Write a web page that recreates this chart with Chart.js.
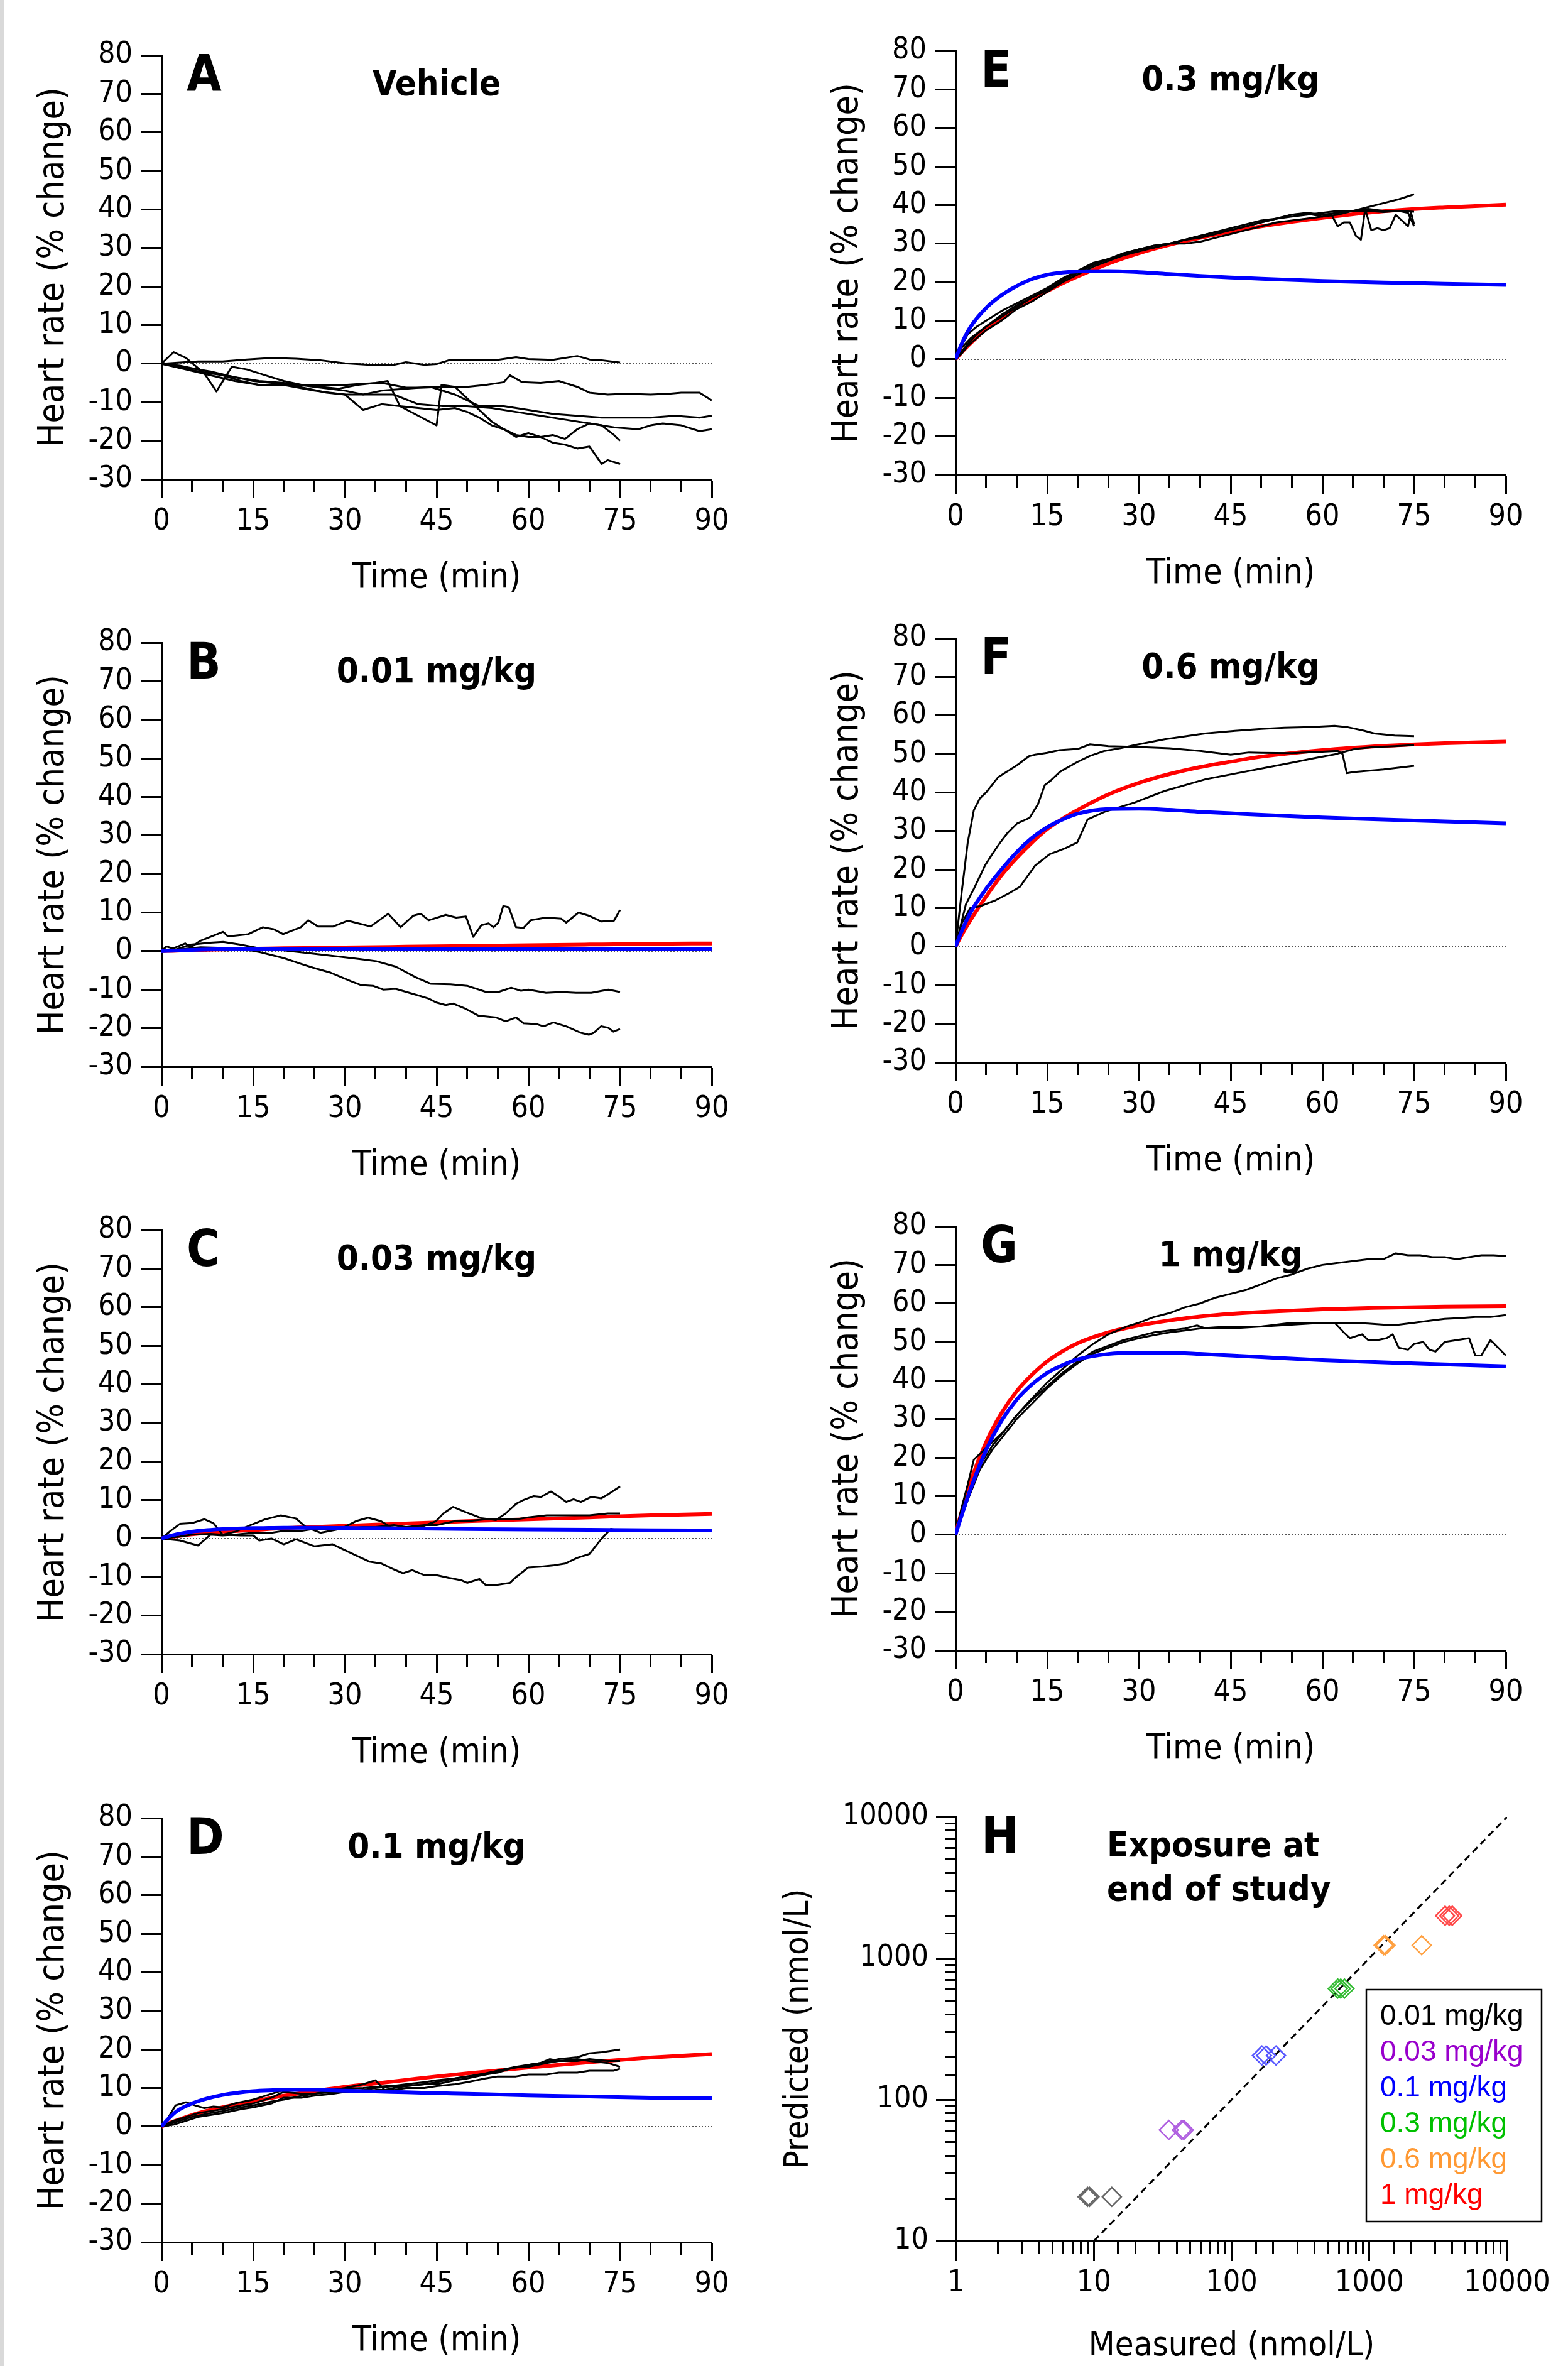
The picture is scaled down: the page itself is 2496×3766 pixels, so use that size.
<!DOCTYPE html>
<html>
<head>
<meta charset="utf-8">
<title>Heart rate and exposure</title>
<script src="https://cdn.jsdelivr.net/npm/chart.js@4.4.1/dist/chart.umd.min.js"></script>
<style>
  html, body { margin: 0; padding: 0; background: #fff; }
  body { position: relative; width: 2496px; height: 3766px; overflow: hidden; }
  #edge { position: absolute; left: 0; top: 0; width: 6px; height: 3766px; background: #d9d9d9; }
</style>
</head>
<body>
<div id="edge"></div>
<script>
// ---- data ---------------------------------------------------------------

// time grid of the model curves (min)
const modelT = [0, 1, 2.5, 5, 7.5, 10, 12.5, 15, 17.5, 20, 25, 30, 35, 40, 45, 50, 60, 70, 80, 90];

// A: vehicle
const tA1 = [0, 3, 6, 10, 14, 18, 22, 26, 30, 34, 38, 40, 43, 45, 47, 50, 55, 58, 60, 64, 68, 70, 72, 75];
const vA1 = [0, 0.3, 0.6, 0.6, 1.1, 1.5, 1.3, 0.9, 0.1, -0.3, -0.3, 0.4, -0.3, -0.1, 0.9, 1, 1, 1.7, 1.2, 1, 2, 1.1, 0.9, 0.3];
const tA2 = [0, 3, 6, 10, 13, 16, 20, 25, 30, 33, 36, 40, 43, 46, 50, 53, 56, 57, 59, 62, 65, 68, 70, 73, 76, 80, 83, 85, 88, 90];
const vA2 = [0, -1, -2, -3, -4.5, -5.5, -5.5, -5.5, -5.5, -5.2, -5, -6.2, -6.2, -6, -6, -5.5, -4.8, -3, -4.8, -5, -4.5, -6, -7.5, -8, -7.8, -8, -7.8, -7.5, -7.5, -9.5];
const tA3 = [0, 2, 4, 7, 9, 11.5, 14, 17, 20, 23, 26, 29, 32, 35, 37, 39, 42, 45, 45.8, 48, 50, 52, 54, 56, 58, 60, 62, 64, 66, 68, 70, 72, 74, 75];
const vA3 = [0, 3, 1.5, -2.5, -7.2, -0.8, -1.5, -3, -4.5, -5.5, -6, -6.5, -5.5, -5, -4.5, -11, -13.5, -16, -5.5, -6, -9, -12, -15, -17, -19, -18, -19, -18.5, -19.5, -17, -15.5, -16, -18.5, -20];
const tA4 = [0, 3, 6, 9, 12, 15, 18, 21, 24, 27, 30, 33, 36, 39, 42, 45, 48, 50, 52, 54, 56, 58, 60, 62, 64, 66, 68, 70, 72, 73, 75];
const vA4 = [0, -0.5, -1.5, -2.5, -3.5, -4.5, -5, -5.5, -6.5, -7.5, -8, -12, -10.5, -11, -11.5, -12, -11.5, -12.5, -14, -16, -17, -18.5, -19, -19, -20.5, -21, -22, -21.5, -26, -25, -26];
const tA5 = [0, 4, 8, 12, 16, 20, 25, 30, 33, 36, 40, 44, 48, 52, 56, 60, 64, 68, 72, 76, 80, 84, 88, 90];
const vA5 = [0, -1, -2, -3.5, -4.5, -5, -6, -7, -8, -7, -6.5, -6, -8, -11, -11, -12, -13, -13.5, -14, -14, -14, -13.5, -14, -13.5];
const tA6 = [0, 4, 8, 12, 16, 20, 25, 30, 34, 38, 42, 46, 50, 54, 58, 62, 66, 70, 74, 78, 80, 82, 85, 88, 90];
const vA6 = [0, -1.5, -3, -4.5, -5.5, -5.5, -7, -8, -8, -8, -10.5, -11, -11, -11.5, -12.5, -13.5, -14.5, -15.5, -16.5, -17, -16, -15.5, -16, -17.5, -17];

// B: 0.01 mg/kg
const tB1 = [0, 0.8, 1.9, 3.9, 4.8, 6.4, 10.1, 10.9, 14.2, 16.6, 18.3, 19.9, 22.8, 24, 25.6, 28.1, 30.5, 32.2, 34.2, 37.1, 39.1, 41.2, 42.4, 43.7, 46.5, 48.2, 49.8, 51, 52.3, 53.5, 54.3, 55.1, 55.9, 56.8, 58, 59.2, 60.4, 62.9, 65.4, 66.2, 68.2, 69.9, 71.9, 74, 75];
const vB1 = [0, 1.2, 0.7, 2, 1, 2.7, 5, 3.8, 4.4, 6.2, 5.7, 4.4, 6.2, 8, 6.4, 6.4, 7.9, 7.2, 6.4, 9.7, 6.2, 9.2, 9.7, 8, 9.4, 8.7, 9, 3.7, 6.7, 7.2, 6.2, 7.4, 11.7, 11.4, 6.2, 6, 8, 8.7, 8.4, 7.4, 10, 9.2, 7.7, 7.9, 10.7];
const tB2 = [0, 2.3, 4.8, 8, 10.1, 12.9, 16.2, 20, 24.4, 30, 32.6, 35.1, 38.3, 41.6, 44.1, 47.3, 50, 53.1, 55.1, 57.2, 58.8, 60, 62.9, 65.4, 67.8, 70.3, 73.1, 75];
const vB2 = [0, 0.4, 1.7, 2.2, 2.4, 1.7, 0.7, 0.2, -0.6, -1.6, -2.1, -2.6, -4, -6.8, -8.5, -8.6, -9, -10.6, -10.6, -9.5, -10.3, -10, -10.8, -10.6, -10.8, -10.8, -10, -10.6];
const tB3 = [0, 6.4, 12.9, 16.2, 20, 22.8, 24.8, 27.7, 31, 32.6, 34.6, 36.3, 38.3, 41.6, 43.7, 44.9, 46.5, 47.7, 49.8, 51.8, 54.7, 56.3, 58, 59.2, 61.3, 62.5, 64.1, 66.2, 68.6, 69.9, 70.7, 71.9, 73.1, 73.9, 75];
const vB3 = [0, 1, 0.7, -0.3, -1.8, -3.3, -4.3, -5.6, -7.8, -8.8, -9, -10, -9.8, -11.3, -12.3, -13.3, -14, -13.6, -15, -16.7, -17.2, -18.2, -17.2, -18.7, -18.9, -19.5, -18.5, -19.5, -21.2, -21.7, -21.2, -19.5, -19.9, -20.9, -20.2];
const redB = [0, 0.05, 0.12, 0.25, 0.35, 0.45, 0.52, 0.6, 0.68, 0.75, 0.85, 0.95, 1.05, 1.15, 1.25, 1.35, 1.55, 1.72, 1.88, 2.0];
const blueB = [0, 0.05, 0.15, 0.3, 0.42, 0.5, 0.55, 0.6, 0.62, 0.63, 0.64, 0.64, 0.64, 0.63, 0.63, 0.62, 0.62, 0.61, 0.6, 0.6];

// C: 0.03 mg/kg
const tC1 = [0, 1.5, 3, 5, 7, 8.5, 10, 12.1, 14.6, 17, 19.5, 22, 23.6, 26, 29.3, 31.8, 33.8, 35.9, 37.5, 40, 42.4, 44.9, 46.1, 47.7, 49.8, 52.3, 54.7, 56.3, 58, 59.2, 60.9, 62.1, 63.7, 64.9, 66.2, 67.4, 68.6, 70.3, 71.9, 73.1, 75];
const vC1 = [0, 2, 3.8, 4, 5, 4, 1, 1.8, 3.5, 5, 6, 5.2, 3, 1.5, 2.5, 4.5, 5.4, 4.5, 3, 2.5, 3, 4.5, 6.5, 8.2, 6.8, 5.3, 4.8, 6.5, 9, 10, 11, 10.8, 12.2, 11, 9.5, 10.2, 9.5, 10.8, 10.4, 11.5, 13.5];
const tC2 = [0, 3, 6, 8, 10, 12, 15, 18, 20, 23, 25, 28, 30, 33, 35, 38, 40, 43, 45, 48, 50, 53, 55, 58, 60, 63, 65, 68, 70, 73, 75];
const vC2 = [0, -0.5, -1.8, 1, 0.8, 1, 1.5, 1.5, 2, 2, 2.5, 2.5, 2.5, 3, 3, 3.5, 3, 3.5, 3.5, 4.5, 4.5, 5, 5, 5, 5.5, 6, 6, 6, 6, 6.5, 6.5];
const tC3 = [0, 3, 5, 8, 10, 13, 15, 16, 18, 20, 22, 25, 28, 30, 32, 34, 36, 38, 39.5, 41, 43, 45, 47, 49, 50, 52, 53, 55, 57, 58, 60, 62, 64, 66, 68, 70, 71, 72, 73.5, 75];
const vC3 = [0, 0.5, 1, 1.2, 1, 0.8, 0.8, -0.5, 0, -1.5, -0.2, -2, -1.5, -3, -4.5, -6, -6.5, -8, -9, -8.2, -9.5, -9.5, -10.2, -10.8, -11.5, -10.5, -12, -12, -11.5, -10, -7.5, -7.3, -7, -6.5, -5, -4, -2, 0, 2.5, 2];
const redC = [0, 0.3, 0.6, 1.1, 1.5, 1.8, 2.0, 2.2, 2.45, 2.7, 3.0, 3.3, 3.6, 3.9, 4.2, 4.5, 5.0, 5.5, 6.0, 6.4];
const blueC = [0, 0.5, 1.1, 1.8, 2.2, 2.45, 2.6, 2.7, 2.75, 2.8, 2.8, 2.75, 2.7, 2.6, 2.55, 2.45, 2.35, 2.25, 2.15, 2.1];

// D: 0.1 mg/kg
const tD1 = [0, 1, 2.3, 4, 5.5, 7, 8.5, 10, 12, 15, 17, 20, 22, 25, 28, 30, 33, 35, 38, 40, 43, 45, 48, 50, 53, 55, 58, 60, 62, 65, 68, 70, 72, 75];
const vD1 = [0, 2, 5.5, 6.3, 5.5, 4.8, 5.2, 5, 6, 7, 8, 9.5, 9.5, 9.3, 9.6, 9.8, 10, 10.3, 10.6, 11, 11.5, 12, 12.5, 13, 13.8, 14.5, 15.3, 16, 16.5, 17.5, 18, 19, 19.3, 20];
const tD2 = [0, 2, 4, 6, 8, 10, 13, 15, 18, 20, 23, 25, 28, 30, 33, 35, 38, 40, 43, 45, 48, 50, 53, 55, 58, 60, 63, 65, 68, 70, 72, 74, 75];
const vD2 = [0, 0.5, 1.5, 2.5, 3, 3.5, 4.5, 5, 6, 7.5, 7.5, 8, 8.5, 9, 9, 9.5, 9.5, 10, 10, 10.5, 11, 11.5, 12.5, 13, 13, 13.5, 13.5, 14, 14, 14.5, 14.5, 14.5, 15];
const tD3 = [0, 2, 4, 6, 8, 10, 13, 15, 18, 20, 23, 25, 28, 30, 33, 35, 36.5, 38, 40, 43, 45, 48, 50, 53, 55, 58, 60, 63, 65, 68, 70, 73, 75];
const vD3 = [0, 1.5, 2.5, 3.5, 4, 4.5, 5.5, 6, 7.5, 9, 8.5, 8.5, 9.5, 10, 11, 12, 9.5, 10, 10.5, 11, 11, 12, 12.5, 13.5, 14.5, 15.5, 15.5, 16.5, 17, 17.5, 17, 16.5, 15.5];
const tD4 = [0, 2, 5, 8, 10, 13, 15, 18, 20, 23, 25, 28, 30, 33, 35, 38, 40, 43, 45, 48, 50, 53, 55, 58, 60, 62, 63.5, 65, 68, 70, 73, 75];
const vD4 = [0, 1, 2.5, 3.5, 4, 5, 5.5, 6.5, 7, 8, 8.5, 9, 9, 9.5, 10, 10.5, 10.5, 11, 11.5, 12.5, 13, 13.5, 14, 15.5, 16, 16.5, 17.5, 17, 17, 17.5, 17, 17];
const redD = [0, 0.7, 1.6, 3, 4.1, 5, 5.8, 6.5, 7.3, 8, 9.2, 10.3, 11.2, 12.1, 13, 13.8, 15.3, 16.7, 17.9, 18.8];
const blueD = [0, 1.8, 4, 6, 7.3, 8.2, 8.8, 9.2, 9.4, 9.5, 9.5, 9.3, 9.1, 8.9, 8.7, 8.5, 8.1, 7.8, 7.5, 7.3];

// E: 0.3 mg/kg
const tE = [0, 1, 2, 3.5, 5, 7.5, 10, 12.5, 15, 17.5, 20, 22.5, 25, 27.5, 30, 32.5, 35, 37.5, 40, 42.5, 45, 47.5, 50, 52.5, 55, 57.5, 60, 62.5, 65, 67.5, 70, 72.5, 75];
const vE1 = [0, 3.5, 6.5, 8.5, 10, 12.5, 14.5, 16.5, 18.5, 21, 23, 24.5, 26, 27, 28, 29, 30, 31, 31.5, 32.5, 33.5, 34.5, 35.5, 36.5, 37.5, 38, 37.5, 38, 38.5, 39.5, 40.5, 41.5, 42.8];
const vE2 = [0, 1.5, 3.5, 5.5, 7.5, 10, 13, 15, 17.5, 20, 22, 24, 25.5, 27, 28.5, 29.5, 30, 31, 32, 33, 34, 35, 36, 36.5, 37, 37.5, 38, 38.5, 38.5, 38.5, 38.2, 38.5, 38.3];
const tE3 = [0, 1, 2, 3.5, 5, 7.5, 10, 12.5, 15, 17.5, 20, 22.5, 25, 27.5, 30, 32.5, 35, 37.5, 40, 42.5, 45, 47.5, 50, 52.5, 55, 57.5, 60, 61.5, 62.5, 63.5, 64.5, 65.5, 66.3, 67, 68, 69, 70, 71, 72, 73, 74, 74.5, 75];
const vE3 = [0, 2, 4, 6.5, 8.5, 11, 13.5, 16, 18, 20.5, 23, 25, 26, 27.5, 28.5, 29, 30, 30, 30.5, 31.5, 32.5, 33.5, 34.5, 35.5, 36, 36.5, 37, 37.5, 34.5, 35.5, 35.5, 32, 31, 39, 33.5, 34, 33.5, 34, 37.5, 36, 34.5, 38, 35];
const tE4 = [0, 1, 2.5, 5, 7.5, 10, 12.5, 15, 17.5, 20, 22.5, 25, 27.5, 30, 32.5, 35, 37.5, 40, 42.5, 45, 47.5, 50, 52.5, 55, 57.5, 60, 62.5, 65, 67.5, 70, 72.5, 74, 75];
const vE4 = [0, 3, 5.5, 8.5, 11.5, 14, 16, 18, 20.5, 22.5, 24.5, 26, 27.5, 28.5, 29.5, 30, 31, 32, 33, 33.5, 34.5, 35.5, 36.5, 37.5, 37.8, 37, 37.5, 38.5, 39, 38.5, 38.5, 38, 34.5];
const redE = [0, 1.8, 4.2, 7.8, 10.8, 13.3, 15.6, 17.7, 19.7, 21.5, 24.8, 27.5, 29.7, 31.5, 33.1, 34.5, 36.7, 38.4, 39.4, 40.1];
const blueE = [0, 4, 8.5, 13.3, 16.6, 19, 20.8, 21.9, 22.5, 22.8, 22.9, 22.6, 22.1, 21.6, 21.2, 20.9, 20.3, 19.9, 19.6, 19.3];

// F: 0.6 mg/kg
const tF1 = [0, 1, 2, 3, 4, 5, 6, 7, 8, 10, 12, 13, 15, 17, 20, 22, 25, 30, 35, 40, 45, 48, 50, 55, 60, 62.5, 63.3, 64, 65, 70, 75];
const vF1 = [0, 14, 27, 35.4, 38.5, 40, 42, 44, 45, 47, 49.4, 49.8, 50.3, 51, 51.3, 52.5, 52, 51.8, 51.5, 50.8, 49.8, 50.4, 50.3, 50.2, 50.6, 50.8, 50, 45, 45.3, 46, 46.9];
const tF2 = [0, 1.7, 3, 4.8, 6, 7.3, 8.5, 10.1, 12.1, 13.5, 14.6, 15.5, 17.1, 19.9, 22, 24.4, 27, 29.3, 34.2, 40.8, 45.7, 50, 53.8, 58, 62, 64, 66.9, 68.5, 71.8, 75];
const vF2 = [0, 11, 15, 21, 24, 27, 29.5, 32, 33.4, 37, 41.9, 43, 45.4, 47.9, 49.5, 50.8, 51.5, 52.3, 53.8, 55.3, 56, 56.5, 56.8, 57, 57.3, 57, 56, 55.3, 54.8, 54.6];
const tF3 = [0, 1, 2.4, 4, 6.5, 8.9, 10.5, 13, 15.4, 17.9, 19.9, 21.6, 24.4, 29.3, 34.2, 40.8, 45.7, 50.6, 55.5, 58.7, 62, 65.3, 68.5, 71.8, 75];
const vF3 = [0, 6, 10, 10.5, 12, 14, 15.5, 21, 24, 25.5, 27, 33, 35, 37.4, 40.4, 43.4, 44.9, 46.4, 47.9, 48.9, 49.9, 51.3, 51.8, 52, 52.3];
const redF = [0, 3, 7, 13, 18.5, 23, 27, 30.5, 33.2, 35.5, 39.5, 42.5, 44.8, 46.6, 48, 49.3, 51, 52.1, 52.8, 53.2];
const blueF = [0, 4, 9, 15, 20, 24.5, 28.2, 31, 33, 34.5, 35.7, 35.8, 35.5, 35, 34.6, 34.2, 33.5, 33, 32.5, 32];

// G: 1 mg/kg
const tG1 = [0, 1, 2, 3, 4, 5, 6, 8, 10, 12, 15, 17.5, 20, 22.5, 25, 28, 30, 32.5, 35, 37.5, 40, 42.5, 45, 47.5, 50, 52.5, 55, 57.5, 60, 62.5, 65, 67.5, 70, 72, 74, 76, 78, 80, 82, 84, 86, 88, 90];
const vG1 = [0, 7, 13, 19.5, 21, 22.5, 24, 27, 31, 34.5, 39.5, 43, 46.5, 49.5, 52, 54, 55, 56.5, 57.5, 59, 60, 61.5, 62.5, 63.5, 65, 66.5, 67.5, 69, 70, 70.5, 71, 71.5, 71.5, 73, 72.5, 72.5, 72, 72, 71.5, 72, 72.5, 72.5, 72.3];
const tG2 = [0, 2, 4, 6, 8, 10, 12.5, 15, 17.5, 20, 22.5, 25, 27.5, 30, 32.5, 35, 37.5, 40, 42.5, 45, 47.5, 50, 52.5, 55, 57.5, 60, 62.5, 65, 67.5, 70, 72.5, 75, 77.5, 80, 82.5, 85, 87.5, 90];
const vG2 = [0, 9, 17, 22, 26, 30, 34, 38, 41.5, 44.5, 47, 48.5, 50, 51, 51.8, 52.5, 53, 53.5, 53.8, 54, 54, 54, 54.5, 55, 55, 55, 55, 55, 54.8, 54.5, 54.5, 55, 55.5, 56, 56.2, 56.5, 56.5, 57];
const tG3 = [0, 2, 4, 6, 8, 10, 12.5, 15, 17.5, 20, 22.5, 25, 27.5, 30, 32.5, 35, 37.5, 39.5, 41, 45, 50, 55, 60, 62, 63.5, 64.5, 65.5, 66.5, 67.5, 69, 70.5, 71.5, 72.5, 74, 75, 76.5, 77.5, 78.5, 80, 82, 84, 85, 86, 87.5, 90];
const vG3 = [0, 10, 18, 23, 27, 31, 35, 38.5, 42, 45, 47.5, 49, 50.5, 51.5, 52.5, 53, 53.5, 54.3, 53.5, 53.5, 54, 54.5, 55, 55, 52.5, 51, 51.5, 52, 50.5, 50.5, 51, 52, 48.5, 48, 49.5, 50, 48, 47.5, 50, 50.5, 51, 46.5, 46.5, 50.5, 46.5];
const redG = [0, 6, 14, 24, 31.5, 37.2, 41.5, 45, 47.6, 49.7, 52.5, 54.3, 55.6, 56.6, 57.3, 57.8, 58.5, 58.9, 59.2, 59.3];
const blueG = [0, 5, 12, 22, 29.5, 35, 39, 42, 44, 45.5, 46.9, 47.2, 47.2, 46.9, 46.5, 46.1, 45.3, 44.7, 44.2, 43.7];

// H: exposure at end of study (nmol/L)
const doseLabels = ['0.01 mg/kg', '0.03 mg/kg', '0.1 mg/kg', '0.3 mg/kg', '0.6 mg/kg', '1 mg/kg'];
const doseTextColors = ['#000000', '#9900cc', '#0000ff', '#00c000', '#ff9933', '#ff0000'];
const doseMarkColors = ['#666666', '#b060e0', '#5555ff', '#33bb33', '#ffa040', '#ff4848'];
const measured = [[9.0, 9.3, 13.5], [35, 43.5, 45], [166, 178, 210], [590, 620, 660], [1270, 1310, 2400], [3550, 3800, 4000]];
const predicted = [[20.5, 20.5, 20.5], [61, 61, 61], [205, 205, 205], [610, 610, 610], [1236, 1236, 1236], [2000, 2000, 2000]];
const unityX = [10, 10000];
const unityY = [10, 10000];

// ---- drawing ------------------------------------------------------------

const FONT = '"DejaVu Sans Condensed", "DejaVu Sans", sans-serif';
const TICK_SIZE = 48;
const LETTER_FONT = 'bold 80px "Liberation Sans Narrow", "DejaVu Sans Condensed", sans-serif';
const TITLE_FONT = 'bold 56px "DejaVu Sans Condensed", "DejaVu Sans", sans-serif';

function pts(ts, vs) {
  return ts.map((t, i) => ({x: t, y: vs[i]}));
}

function isPow10(v) {
  const l = Math.log10(v);
  return Math.abs(l - Math.round(l)) < 1e-6;
}

function makeCanvas(id, left, top, w, h) {
  const c = document.createElement('canvas');
  c.id = id;
  c.width = w;
  c.height = h;
  c.style.cssText = 'position:absolute;left:' + left + 'px;top:' + top + 'px;width:' + w + 'px;height:' + h + 'px';
  document.body.appendChild(c);
  return c;
}

// panel letter + bold heading inside the plot area
const panelText = {
  id: 'panelText',
  afterDatasetsDraw(chart, args, o) {
    const {ctx, chartArea: a} = chart;
    ctx.save();
    ctx.fillStyle = '#000';
    ctx.textBaseline = 'alphabetic';
    ctx.textAlign = 'left';
    ctx.font = LETTER_FONT;
    ctx.fillText(o.letter, a.left + 40, a.top + 57);
    ctx.font = TITLE_FONT;
    if (o.titleLeft) {
      o.title.forEach((s, i) => ctx.fillText(s, a.left + o.titleLeft, a.top + 63 + i * 70));
    } else {
      ctx.textAlign = 'center';
      ctx.fillText(o.title[0], (a.left + a.right) / 2, a.top + 63);
    }
    ctx.restore();
  }
};

// boxed dose legend of panel H
const doseLegend = {
  id: 'doseLegend',
  afterDraw(chart) {
    const {ctx, chartArea: a} = chart;
    const x0 = a.right - 224, y0 = a.top + 275;
    ctx.save();
    ctx.fillStyle = '#fff';
    ctx.fillRect(x0, y0, 279, 369);
    ctx.strokeStyle = '#000';
    ctx.lineWidth = 2.5;
    ctx.strokeRect(x0, y0, 279, 369);
    ctx.font = '46px "Liberation Sans", Arial, sans-serif';
    ctx.textAlign = 'left';
    ctx.textBaseline = 'alphabetic';
    doseLabels.forEach((s, i) => {
      ctx.fillStyle = doseTextColors[i];
      ctx.fillText(s, x0 + 22, a.top + 331 + i * 57);
    });
    ctx.restore();
  }
};

function timePanel(p) {
  const right = p.col === 1;
  const cLeft = right ? 1248 : 0;
  const L = right ? 1521 : 257;
  const R = right ? 2397 : 1133;
  const canvas = makeCanvas('panel' + p.letter, cLeft, p.top - 90, 1248, 965);

  const datasets = [{
    data: pts([0, 90], [0, 0]), borderColor: '#555', borderWidth: 2, borderDash: [2, 3],
    pointRadius: 0, order: 4
  }];
  p.traces.forEach(tr => datasets.push({
    data: pts(tr[0], tr[1]), borderColor: '#000', borderWidth: 3, pointRadius: 0,
    borderJoinStyle: 'round', order: 2
  }));
  if (p.red) datasets.push({
    data: pts(modelT, p.red), borderColor: '#ff0000', borderWidth: 6, pointRadius: 0,
    cubicInterpolationMode: 'monotone', order: 3
  });
  if (p.blue) datasets.push({
    data: pts(modelT, p.blue), borderColor: '#0000ff', borderWidth: 6, pointRadius: 0,
    cubicInterpolationMode: 'monotone', order: 1
  });

  new Chart(canvas, {
    type: 'line',
    data: {datasets: datasets},
    options: {
      responsive: false,
      animation: false,
      devicePixelRatio: 1,
      events: [],
      layout: {padding: {top: 90, right: cLeft + 1248 - R, left: 0, bottom: 0}},
      plugins: {
        legend: {display: false},
        tooltip: {enabled: false},
        panelText: {letter: p.letter, title: [p.title]}
      },
      scales: {
        x: {
          type: 'linear', min: 0, max: 90,
          ticks: {
            stepSize: 5, autoSkip: false, maxRotation: 0, padding: 9, color: '#000',
            font: {family: FONT, size: TICK_SIZE},
            callback: v => (v % 15 === 0 ? String(v) : '')
          },
          grid: {
            drawOnChartArea: false, drawTicks: true, tickLength: 30, tickWidth: 3, tickColor: '#000',
            tickBorderDash: c => (c.tick && c.tick.value % 15 !== 0 ? [18, 200] : [])
          },
          border: {display: true, color: '#000', width: 3},
          title: {
            display: true, text: 'Time (min)', color: '#000',
            font: {family: FONT, size: 55}, padding: {top: 0, bottom: 9}
          },
          afterFit: s => { s.height = 200; }
        },
        y: {
          type: 'linear', min: -30, max: 80,
          ticks: {stepSize: 10, padding: 14, color: '#000', font: {family: FONT, size: TICK_SIZE}},
          grid: {drawOnChartArea: false, drawTicks: true, tickLength: 32, tickWidth: 3, tickColor: '#000'},
          border: {display: true, color: '#000', width: 3},
          title: {
            display: true, text: 'Heart rate (% change)', color: '#000',
            font: {family: FONT, size: 57}, padding: {top: L - cLeft - 171 - 34, bottom: 0}
          },
          afterFit: s => { s.width = L - cLeft; }
        }
      }
    },
    plugins: [panelText]
  });
}

const panels = [
  {letter: 'A', col: 0, top: 88, title: 'Vehicle',
   traces: [[tA1, vA1], [tA2, vA2], [tA3, vA3], [tA4, vA4], [tA5, vA5], [tA6, vA6]]},
  {letter: 'B', col: 0, top: 1023, title: '0.01 mg/kg',
   traces: [[tB1, vB1], [tB2, vB2], [tB3, vB3]], red: redB, blue: blueB},
  {letter: 'C', col: 0, top: 1958, title: '0.03 mg/kg',
   traces: [[tC1, vC1], [tC2, vC2], [tC3, vC3]], red: redC, blue: blueC},
  {letter: 'D', col: 0, top: 2894, title: '0.1 mg/kg',
   traces: [[tD1, vD1], [tD2, vD2], [tD3, vD3], [tD4, vD4]], red: redD, blue: blueD},
  {letter: 'E', col: 1, top: 81, title: '0.3 mg/kg',
   traces: [[tE, vE1], [tE, vE2], [tE3, vE3], [tE4, vE4]], red: redE, blue: blueE},
  {letter: 'F', col: 1, top: 1016, title: '0.6 mg/kg',
   traces: [[tF1, vF1], [tF2, vF2], [tF3, vF3]], red: redF, blue: blueF},
  {letter: 'G', col: 1, top: 1952, title: '1 mg/kg',
   traces: [[tG1, vG1], [tG2, vG2], [tG3, vG3]], red: redG, blue: blueG}
];
panels.forEach(timePanel);

// panel H: predicted vs measured exposure, log-log
(function () {
  const cLeft = 1200, top = 2892, L = 1522, R = 2399;
  const canvas = makeCanvas('panelH', cLeft, top - 90, 2496 - cLeft, 965);
  const datasets = [{
    data: pts(unityX, unityY), showLine: true, borderColor: '#000', borderWidth: 3,
    borderDash: [11, 7], pointRadius: 0, order: 2
  }];
  measured.forEach((m, i) => datasets.push({
    data: pts(m, predicted[i]), showLine: false, pointStyle: 'rectRot', pointRadius: 15,
    pointBorderWidth: 2.5, borderColor: doseMarkColors[i], backgroundColor: 'rgba(0,0,0,0)', order: 1
  }));

  const logTicks = pad => ({
    autoSkip: false, maxRotation: 0, padding: pad, color: '#000',
    font: {family: FONT, size: TICK_SIZE},
    callback: v => (isPow10(v) ? String(v) : '')
  });

  new Chart(canvas, {
    type: 'scatter',
    data: {datasets: datasets},
    options: {
      responsive: false,
      animation: false,
      devicePixelRatio: 1,
      events: [],
      layout: {padding: {top: 90, right: 2496 - R, left: 0, bottom: 0}},
      plugins: {
        legend: {display: false},
        tooltip: {enabled: false},
        panelText: {letter: 'H', title: ['Exposure at', 'end of study'], titleLeft: 240}
      },
      scales: {
        x: {
          type: 'logarithmic', min: 1, max: 10000,
          ticks: logTicks(7),
          grid: {
            drawOnChartArea: false, drawTicks: true, tickLength: 32, tickWidth: 3, tickColor: '#000',
            tickBorderDash: c => (c.tick && !isPow10(c.tick.value) ? [18, 200] : [])
          },
          border: {display: true, color: '#000', width: 3},
          title: {
            display: true, text: 'Measured (nmol/L)', color: '#000',
            font: {family: FONT, size: 54}, padding: {top: 0, bottom: 0}
          },
          afterFit: s => { s.height = 200; }
        },
        y: {
          type: 'logarithmic', min: 10, max: 10000,
          ticks: logTicks(12),
          grid: {
            drawOnChartArea: false, drawTicks: true, tickLength: 32, tickWidth: 3, tickColor: '#000',
            tickBorderDash: c => (c.tick && !isPow10(c.tick.value) ? [0, 14, 18, 200] : [])
          },
          border: {display: true, color: '#000', width: 3},
          title: {
            display: true, text: 'Predicted (nmol/L)', color: '#000',
            font: {family: FONT, size: 54}, padding: {top: 40, bottom: 0}
          },
          afterFit: s => { s.width = L - cLeft; }
        }
      }
    },
    plugins: [panelText, doseLegend]
  });
})();
</script>
</body>
</html>
